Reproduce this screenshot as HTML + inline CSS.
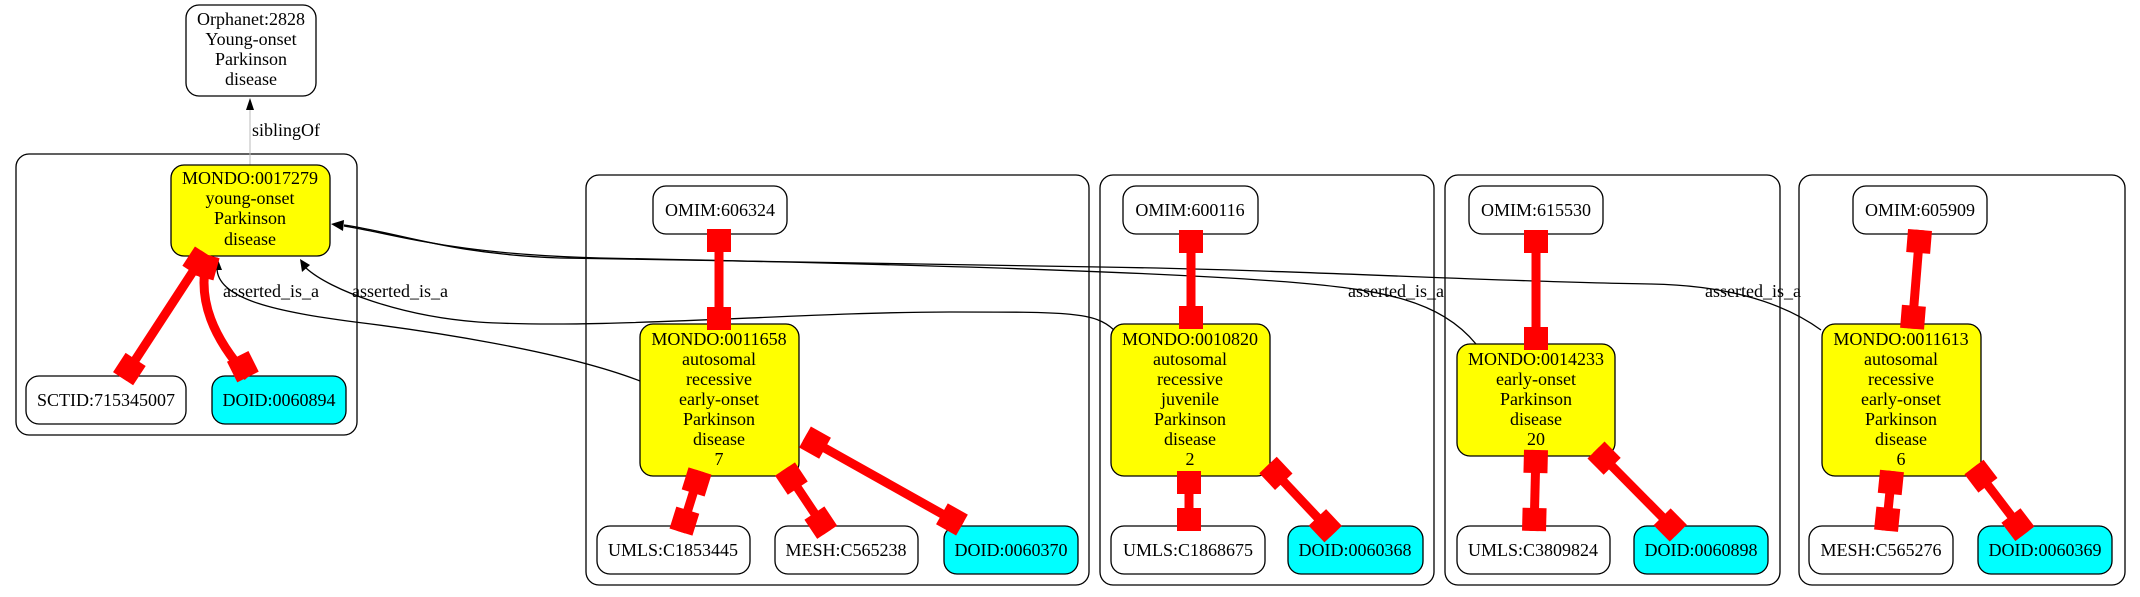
<!DOCTYPE html>
<html><head><meta charset="utf-8"><style>
html,body{margin:0;padding:0;background:#fff}
svg{display:block}
text{font-family:"Liberation Serif",serif;font-size:18px;fill:#000;text-anchor:middle}
</style></head><body>
<svg width="2140" height="597" viewBox="0 0 2140 597" xmlns="http://www.w3.org/2000/svg">
<!-- clusters -->
<g fill="none" stroke="#000" stroke-width="1.3">
<rect x="16" y="154" width="341" height="281" rx="13"/>
<rect x="586" y="175" width="503" height="410" rx="13"/>
<rect x="1100" y="175" width="334" height="410" rx="13"/>
<rect x="1445" y="175" width="335" height="410" rx="13"/>
<rect x="1799" y="175" width="326" height="410" rx="13"/>
</g>
<!-- siblingOf -->
<line x1="250" y1="165" x2="250" y2="108" stroke="#bbb" stroke-width="1"/>
<polygon points="250,98 246,110 254,110" fill="#000"/>
<text x="286" y="136">siblingOf</text>
<!-- nodes -->
<g stroke="#000" stroke-width="1.3">
<rect x="186" y="5" width="130" height="91" rx="13" fill="#fff"/>
<rect x="171" y="165" width="159" height="91" rx="13" fill="#ff0"/>
<rect x="26" y="376" width="160" height="48" rx="13" fill="#fff"/>
<rect x="212" y="376" width="134" height="48" rx="13" fill="#0ff"/>
<rect x="653" y="186" width="134" height="48" rx="13" fill="#fff"/>
<rect x="640" y="324" width="159" height="152" rx="13" fill="#ff0"/>
<rect x="597" y="526" width="153" height="48" rx="13" fill="#fff"/>
<rect x="775" y="526" width="143" height="48" rx="13" fill="#fff"/>
<rect x="944" y="526" width="134" height="48" rx="13" fill="#0ff"/>
<rect x="1123" y="186" width="135" height="48" rx="13" fill="#fff"/>
<rect x="1111" y="324" width="159" height="152" rx="13" fill="#ff0"/>
<rect x="1111" y="526" width="154" height="48" rx="13" fill="#fff"/>
<rect x="1288" y="526" width="135" height="48" rx="13" fill="#0ff"/>
<rect x="1469" y="186" width="134" height="48" rx="13" fill="#fff"/>
<rect x="1457" y="344" width="158" height="112" rx="13" fill="#ff0"/>
<rect x="1457" y="526" width="153" height="48" rx="13" fill="#fff"/>
<rect x="1634" y="526" width="134" height="48" rx="13" fill="#0ff"/>
<rect x="1853" y="186" width="134" height="48" rx="13" fill="#fff"/>
<rect x="1822" y="324" width="159" height="152" rx="13" fill="#ff0"/>
<rect x="1809" y="526" width="144" height="48" rx="13" fill="#fff"/>
<rect x="1978" y="526" width="134" height="48" rx="13" fill="#0ff"/>
</g>
<!-- black edges -->
<g fill="none" stroke="#000" stroke-width="1.3">
<path d="M640,381 C560,350 420,330 355,322 C280,312 217,300 217,268"/>
<path d="M1114,330 C1095,312 1070,312 950,312 C800,312 600,330 478,322 C400,316 330,290 306,268"/>
<path d="M1476,344 C1440,300 1380,290 1300,283 C1150,270 800,262 600,258 C450,254 400,235 344,226"/>
<path d="M1821,330 C1780,300 1720,285 1650,284 C1500,282 1300,270 1100,267 C900,264 700,262 560,258 C450,254 400,233 344,225"/>
</g>
<g fill="#000">
<polygon points="217,257 212,270 222,270"/>
<polygon points="300,259 302,272 310,265"/>
<polygon points="331,224 344,220 343,231"/>
</g>
<text x="271" y="297">asserted_is_a</text>
<text x="400" y="297">asserted_is_a</text>
<text x="1396" y="297">asserted_is_a</text>
<text x="1753" y="297">asserted_is_a</text>
<!-- red edges -->
<g fill="#f00" stroke="#f00" stroke-width="9">
<g transform="translate(719,229) rotate(90)"><line x1="0" y1="0" x2="101" y2="0"/><rect x="0" y="-12" width="23" height="24" stroke="none"/><rect x="78" y="-12" width="23" height="24" stroke="none"/></g>
<g transform="translate(700,471) rotate(107.3)"><line x1="0" y1="0" x2="64" y2="0"/><rect x="0" y="-12" width="23" height="24" stroke="none"/><rect x="41" y="-12" width="23" height="24" stroke="none"/></g>
<g transform="translate(785,469) rotate(56.3)"><line x1="0" y1="0" x2="76" y2="0"/><rect x="0" y="-12" width="23" height="24" stroke="none"/><rect x="53" y="-12" width="23" height="24" stroke="none"/></g>
<g transform="translate(805,437) rotate(29.3)"><line x1="0" y1="0" x2="180" y2="0"/><rect x="0" y="-12" width="23" height="24" stroke="none"/><rect x="157" y="-12" width="23" height="24" stroke="none"/></g>
<g transform="translate(205,253) rotate(123.1)"><line x1="0" y1="0" x2="150" y2="0"/><rect x="0" y="-12" width="23" height="24" stroke="none"/><rect x="127" y="-12" width="23" height="24" stroke="none"/></g>
<path d="M208,255 C195,300 215,340 248,377" fill="none"/>
<g transform="translate(208,255) rotate(105.5)"><rect x="0" y="-12" width="23" height="24" stroke="none"/></g>
<g transform="translate(248,377) rotate(63.4)"><rect x="-23" y="-12" width="23" height="24" stroke="none"/></g>
<g transform="translate(1191,230) rotate(90)"><line x1="0" y1="0" x2="99" y2="0"/><rect x="0" y="-12" width="23" height="24" stroke="none"/><rect x="76" y="-12" width="23" height="24" stroke="none"/></g>
<g transform="translate(1189,471) rotate(90)"><line x1="0" y1="0" x2="60" y2="0"/><rect x="0" y="-12" width="23" height="24" stroke="none"/><rect x="37" y="-12" width="23" height="24" stroke="none"/></g>
<g transform="translate(1268,465) rotate(46.7)"><line x1="0" y1="0" x2="95" y2="0"/><rect x="0" y="-12" width="23" height="24" stroke="none"/><rect x="72" y="-12" width="23" height="24" stroke="none"/></g>
<g transform="translate(1536,230) rotate(90)"><line x1="0" y1="0" x2="120" y2="0"/><rect x="0" y="-12" width="23" height="24" stroke="none"/><rect x="97" y="-12" width="23" height="24" stroke="none"/></g>
<g transform="translate(1536,450) rotate(91.4)"><line x1="0" y1="0" x2="81" y2="0"/><rect x="0" y="-12" width="23" height="24" stroke="none"/><rect x="58" y="-12" width="23" height="24" stroke="none"/></g>
<g transform="translate(1596,450) rotate(45.3)"><line x1="0" y1="0" x2="117" y2="0"/><rect x="0" y="-12" width="23" height="24" stroke="none"/><rect x="94" y="-12" width="23" height="24" stroke="none"/></g>
<g transform="translate(1920,230) rotate(94.6)"><line x1="0" y1="0" x2="99" y2="0"/><rect x="0" y="-12" width="23" height="24" stroke="none"/><rect x="76" y="-12" width="23" height="24" stroke="none"/></g>
<g transform="translate(1892,471) rotate(95.7)"><line x1="0" y1="0" x2="60" y2="0"/><rect x="0" y="-12" width="23" height="24" stroke="none"/><rect x="37" y="-12" width="23" height="24" stroke="none"/></g>
<g transform="translate(1974,467) rotate(52.7)"><line x1="0" y1="0" x2="84" y2="0"/><rect x="0" y="-12" width="23" height="24" stroke="none"/><rect x="61" y="-12" width="23" height="24" stroke="none"/></g>
</g>
<!-- labels -->
<text x="251" y="25">Orphanet:2828</text><text x="251" y="45">Young-onset</text><text x="251" y="65">Parkinson</text><text x="251" y="85">disease</text>
<text x="250" y="184">MONDO:0017279</text><text x="250" y="204">young-onset</text><text x="250" y="224">Parkinson</text><text x="250" y="245">disease</text>
<text x="106" y="406">SCTID:715345007</text>
<text x="279" y="406">DOID:0060894</text>
<text x="720" y="216">OMIM:606324</text>
<text x="719" y="345">MONDO:0011658</text><text x="719" y="365">autosomal</text><text x="719" y="385">recessive</text><text x="719" y="405">early-onset</text><text x="719" y="425">Parkinson</text><text x="719" y="445">disease</text><text x="719" y="465">7</text>
<text x="673" y="556">UMLS:C1853445</text>
<text x="846" y="556">MESH:C565238</text>
<text x="1011" y="556">DOID:0060370</text>
<text x="1190" y="216">OMIM:600116</text>
<text x="1190" y="345">MONDO:0010820</text><text x="1190" y="365">autosomal</text><text x="1190" y="385">recessive</text><text x="1190" y="405">juvenile</text><text x="1190" y="425">Parkinson</text><text x="1190" y="445">disease</text><text x="1190" y="465">2</text>
<text x="1188" y="556">UMLS:C1868675</text>
<text x="1355" y="556">DOID:0060368</text>
<text x="1536" y="216">OMIM:615530</text>
<text x="1536" y="365">MONDO:0014233</text><text x="1536" y="385">early-onset</text><text x="1536" y="405">Parkinson</text><text x="1536" y="425">disease</text><text x="1536" y="445">20</text>
<text x="1533" y="556">UMLS:C3809824</text>
<text x="1701" y="556">DOID:0060898</text>
<text x="1920" y="216">OMIM:605909</text>
<text x="1901" y="345">MONDO:0011613</text><text x="1901" y="365">autosomal</text><text x="1901" y="385">recessive</text><text x="1901" y="405">early-onset</text><text x="1901" y="425">Parkinson</text><text x="1901" y="445">disease</text><text x="1901" y="465">6</text>
<text x="1881" y="556">MESH:C565276</text>
<text x="2045" y="556">DOID:0060369</text>
</svg>
</body></html>
